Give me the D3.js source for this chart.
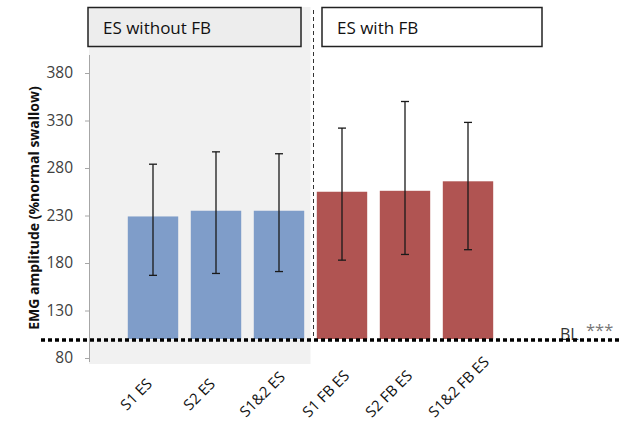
<!DOCTYPE html>
<html>
<head>
<meta charset="utf-8">
<script src="https://cdn.jsdelivr.net/npm/d3@7"></script>
<style>
  body { margin: 0; background: #fff; }
  text { font-family: "Open Sans", "Noto Sans", sans-serif; }
</style>
</head>
<body>
<div id="vis"></div>
<script>
// data
var categories = ["S1  ES", "S2 ES", "S1&2  ES", "S1 FB ES", "S2 FB ES", "S1&2 FB ES"];
var means      = [229, 235, 235, 255, 256, 266];
var errHigh    = [284, 297, 295, 322, 350, 328];
var errLow     = [167, 169, 171, 183, 189, 194];
var withFB     = [false, false, false, true, true, true];
var yTicks     = [80, 130, 180, 230, 280, 330, 380];
var baseline   = 100;
var groupLabels = ["ES without FB", "ES with FB"];

var width = 623,
    height = 425;

var svg = d3.select("#vis").append("svg")
    .attr("width", width)
    .attr("height", height);

var y = d3.scaleLinear()
    .domain([80, 380])
    .range([358, 73]);

var x = d3.scaleBand()
    .domain(categories)
    .range([121.5, 499.5])
    .paddingInner(0.2)
    .paddingOuter(0.1);

// shaded region for the "without FB" group
var split = (x(categories[2]) + x.bandwidth() + x(categories[3])) / 2;
svg.append("rect")
    .attr("x", 89)
    .attr("y", 7)
    .attr("width", split - 89)
    .attr("height", 364 - 7)
    .attr("fill", "#f1f1f1");

// group boxes
var boxes = [{x: 88, w: 213, fill: "#ededed"}, {x: 322, w: 220, fill: "#fff"}];
boxes.forEach(function (b, i) {
  svg.append("rect")
      .attr("x", b.x).attr("y", 7.5)
      .attr("width", b.w).attr("height", 39)
      .attr("fill", b.fill)
      .attr("stroke", "#222")
      .attr("stroke-width", 1.5);
  svg.append("text")
      .attr("x", b.x + 15).attr("y", 34)
      .style("font-size", "17px")
      .attr("fill", "#111")
      .text(groupLabels[i]);
});

// dashed separator
svg.append("line")
    .attr("x1", split + 3).attr("x2", split + 3)
    .attr("y1", 10).attr("y2", y(baseline))
    .attr("stroke", "#333")
    .attr("stroke-width", 1)
    .attr("stroke-dasharray", "4,3");

// y axis
var yAxis = svg.append("g")
    .attr("transform", "translate(90,0)")
    .attr("font-size", 15.5)
    .call(d3.axisLeft(y).tickValues(yTicks).tickSize(5).tickPadding(12));
yAxis.select(".domain")
    .attr("d", "M-0.5,55V362")
    .attr("stroke", "#a6a6a6");
yAxis.selectAll(".tick line").attr("stroke", "#a6a6a6");
yAxis.selectAll(".tick text")
    .attr("fill", "#404040")
    .style("font-size", "15.5px")
    .style("font-family", "'Open Sans', sans-serif");

svg.append("text")
    .attr("transform", "translate(39,208) rotate(-90)")
    .attr("text-anchor", "middle")
    .style("font-size", "14px")
    .style("font-weight", "bold")
    .attr("fill", "#111")
    .text("EMG amplitude (%normal swallow)");

// bars
svg.selectAll(".bar")
    .data(categories)
    .enter().append("rect")
    .attr("class", "bar")
    .attr("x", function (d) { return x(d); })
    .attr("y", function (d, i) { return y(means[i]); })
    .attr("width", x.bandwidth())
    .attr("height", function (d, i) { return y(baseline) - y(means[i]); })
    .attr("fill", function (d, i) { return withFB[i] ? "#b05452" : "#7f9dc9"; });

// error bars
var eb = svg.selectAll(".err")
    .data(categories)
    .enter().append("g")
    .attr("class", "err")
    .attr("stroke", "#1a1a1a")
    .attr("stroke-width", 1.3);
eb.append("line")
    .attr("x1", function (d) { return x(d) + x.bandwidth() / 2; })
    .attr("x2", function (d) { return x(d) + x.bandwidth() / 2; })
    .attr("y1", function (d, i) { return y(errHigh[i]); })
    .attr("y2", function (d, i) { return y(errLow[i]); });
[errHigh, errLow].forEach(function (arr) {
  eb.append("line")
      .attr("x1", function (d) { return x(d) + x.bandwidth() / 2 - 4; })
      .attr("x2", function (d) { return x(d) + x.bandwidth() / 2 + 4; })
      .attr("y1", function (d, i) { return y(arr[i]); })
      .attr("y2", function (d, i) { return y(arr[i]); });
});

// baseline label
svg.append("text")
    .attr("x", 560).attr("y", 340)
    .style("font-size", "16px")
    .attr("fill", "#333")
    .text("BL");
svg.append("text")
    .attr("x", 586).attr("y", 336)
    .style("font-size", "16.5px")
    .attr("fill", "#777")
    .text("***");

// dotted baseline
svg.append("line")
    .attr("x1", 41).attr("x2", 619)
    .attr("y1", y(baseline) + 1).attr("y2", y(baseline) + 1)
    .attr("stroke", "#000")
    .attr("stroke-width", 3.5)
    .attr("stroke-dasharray", "4,3");

// x labels, centred under each bar, nudged up-right if they run off the bottom
svg.selectAll(".xlab")
    .data(categories)
    .enter().append("text")
    .attr("class", "xlab")
    .attr("text-anchor", "middle")
    .style("font-size", "15px")
    .attr("fill", "#111")
    .text(function (d) { return d; })
    .each(function (d) {
      var cx = x(d) + x.bandwidth() / 2 - 13, cy = 398;
      var el = d3.select(this);
      el.attr("transform", "translate(" + cx + "," + cy + ") rotate(-45)");
      var r = this.getBoundingClientRect();
      var over = r.bottom - 421;
      if (over > 0) {
        el.attr("transform", "translate(" + (cx + over) + "," + (cy - over) + ") rotate(-45)");
      }
    });
</script>
</body>
</html>
